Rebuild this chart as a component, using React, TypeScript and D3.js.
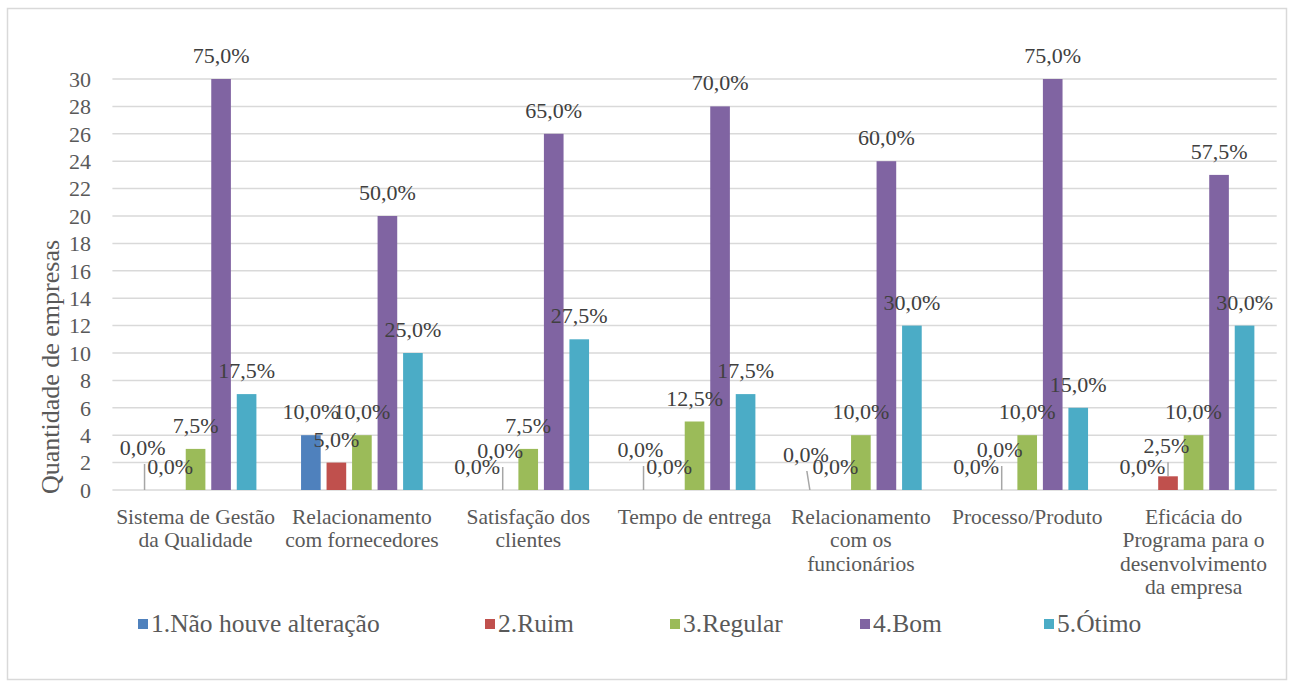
import React from "react";
import * as d3 from "d3";

// Aspects evaluated (category axis)
const categories: string[][] = [
  ["Sistema de Gestão", "da Qualidade"],
  ["Relacionamento", "com fornecedores"],
  ["Satisfação dos", "clientes"],
  ["Tempo de entrega"],
  ["Relacionamento", "com os", "funcionários"],
  ["Processo/Produto"],
  ["Eficácia do", "Programa para o", "desenvolvimento", "da empresa"],
];

const seriesNames = ["1.Não houve alteração", "2.Ruim", "3.Regular", "4.Bom", "5.Ótimo"];
const seriesColors = ["#4F81BD", "#C0504D", "#9BBB59", "#8064A2", "#4BACC6"];

// Number of companies per answer, one array per answer
const naoHouveAlteracao = [0, 4, 0, 0, 0, 0, 0];
const ruim = [0, 2, 0, 0, 0, 0, 1];
const regular = [3, 4, 3, 5, 4, 4, 4];
const bom = [30, 20, 26, 28, 24, 30, 23];
const otimo = [7, 10, 11, 7, 12, 6, 12];

const totalEmpresas = 40;
const yTicks = d3.range(0, 31, 2);

// Data labels that were nudged away from their bars, drawn with a leader line
const labelNudges = [
  { cat: 0, s: 0, dx: -2, dy: -19, leaderDx: 0 },
  { cat: 2, s: 1, dx: -2.5, dy: -16, leaderDx: 0 },
  { cat: 3, s: 0, dx: -3, dy: -17, leaderDx: 0 },
  { cat: 4, s: 0, dx: -4, dy: -12, leaderDx: -3 },
  { cat: 5, s: 1, dx: -2, dy: -17, leaderDx: 0 },
  { cat: 6, s: 1, dx: -1.5, dy: -7, leaderDx: 0 },
];

// Legend entry x positions (left edge of the swatch)
const legendX = [138, 485, 670, 860, 1044];

const W = 1291;
const H = 686;
const FONT = "Liberation Serif";

export default function App() {
  const values = [naoHouveAlteracao, ruim, regular, bom, otimo];
  const plotLeft = 112.4;
  const plotRight = 1276.7;
  const x0 = d3
    .scaleBand<number>()
    .domain(d3.range(categories.length))
    .range([plotLeft, plotRight])
    .paddingInner(0)
    .paddingOuter(0);
  const x1 = d3
    .scaleBand<number>()
    .domain(d3.range(seriesNames.length))
    .range([0, x0.bandwidth()])
    .paddingInner(0.23)
    .paddingOuter(0.875);
  const y = d3.scaleLinear().domain([0, 30]).range([490, 79]);
  const fmt = (v: number) => ((v / totalEmpresas) * 100).toFixed(1).replace(".", ",") + "%";

  const bars: React.ReactNode[] = [];
  const labels: React.ReactNode[] = [];
  values.forEach((arr, s) => {
    arr.forEach((v, c) => {
      const bx = (x0(c) as number) + (x1(s) as number);
      const bw = x1.bandwidth();
      const cx = bx + bw / 2;
      const top = y(v);
      if (v > 0) {
        bars.push(
          <rect key={`b${s}-${c}`} x={bx} y={top} width={bw} height={y(0) - top} fill={seriesColors[s]} />
        );
      }
      const nudge = labelNudges.find((n) => n.cat === c && n.s === s);
      const lx = cx + (nudge ? nudge.dx : 0);
      const ly = top - 16 + (nudge ? nudge.dy : 0);
      if (nudge) {
        labels.push(
          <line
            key={`l${s}-${c}`}
            x1={cx + nudge.leaderDx}
            y1={ly + 9}
            x2={cx}
            y2={top}
            stroke="#A6A6A6"
            strokeWidth={1.5}
          />
        );
      }
      labels.push(
        <text key={`t${s}-${c}`} x={lx} y={ly} textAnchor="middle" fontSize={22} fill="#404040" fontFamily={FONT}>
          {fmt(v)}
        </text>
      );
    });
  });

  return (
    <svg width={W} height={H} fontFamily={FONT} style={{ position: "absolute", left: 0, top: 0 }}>
      <rect x={0} y={0} width={W} height={H} fill="#fff" />
      <rect x={7.5} y={8.5} width={1279} height={671} fill="#fff" stroke="#D9D9D9" strokeWidth={1.5} />
      {/* gridlines and tick labels */}
      {yTicks.map((t) => (
        <g key={t}>
          <line x1={plotLeft} x2={plotRight} y1={y(t)} y2={y(t)} stroke="#D9D9D9" strokeWidth={1.5} />
          <text x={91} y={y(t)} dy="0.35em" textAnchor="end" fontSize={22} fill="#595959" fontFamily={FONT}>
            {t}
          </text>
        </g>
      ))}
      <text
        transform={`translate(50,367) rotate(-90)`}
        textAnchor="middle"
        dy="0.35em"
        fontSize={26}
        fill="#595959"
        fontFamily={FONT}
      >
        Quantidade de empresas
      </text>
      {bars}
      {labels}
      {/* category labels */}
      {categories.map((lines, c) => (
        <text
          key={c}
          x={(x0(c) as number) + x0.bandwidth() / 2}
          y={524}
          textAnchor="middle"
          fontSize={21.5}
          fill="#595959"
          fontFamily={FONT}
        >
          {lines.map((ln, i) => (
            <tspan key={i} x={(x0(c) as number) + x0.bandwidth() / 2} dy={i === 0 ? 0 : 23.3}>
              {ln}
            </tspan>
          ))}
        </text>
      ))}
      {/* legend */}
      {seriesNames.map((name, s) => (
        <g key={name}>
          <rect x={legendX[s]} y={619} width={10} height={10} fill={seriesColors[s]} />
          <text x={legendX[s] + 13} y={632} fontSize={25.5} fill="#595959" fontFamily={FONT}>
            {name}
          </text>
        </g>
      ))}
    </svg>
  );
}
